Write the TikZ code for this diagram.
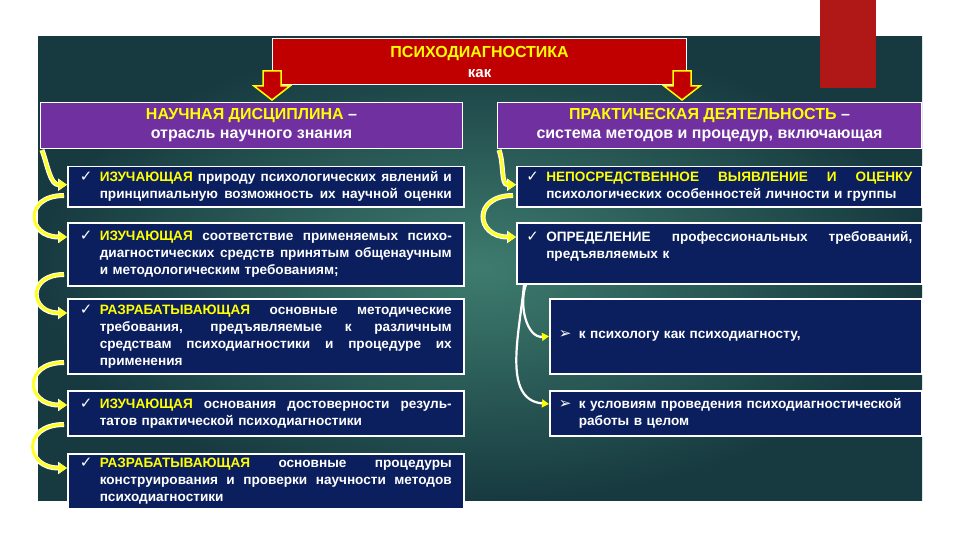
\documentclass[tikz,border=0pt]{standalone}
\usepackage{fontspec}
\setmainfont{Liberation Sans}
\newfontfamily\symfont{DejaVu Sans}
\usepackage{xcolor}
\usepackage{tikz}
\usetikzlibrary{arrows.meta,positioning,calc}
\definecolor{bgdark}{HTML}{173A40}
\definecolor{bgmid}{HTML}{3E7C6E}
\definecolor{psired}{HTML}{C00000}
\definecolor{barred}{HTML}{B01818}
\definecolor{psipurple}{HTML}{7030A0}
\definecolor{psinavy}{HTML}{0B1F5E}
\definecolor{psiyellow}{HTML}{FFFF00}
\newcommand{\chk}{\makebox[20pt][l]{\symfont\bfseries\fontsize{15}{17}\selectfont ✓}}
\newcommand{\pnt}{\makebox[20pt][l]{\symfont\bfseries\fontsize{15}{17}\selectfont ➢}}
\newcommand{\ind}{\hspace*{20pt}}
\newcommand{\jl}[2][352pt]{\makebox[#1][s]{\spaceskip=0pt\xspaceskip=0pt #2}}
\newcommand{\kw}[1]{\textcolor{psiyellow}{#1}}
\tikzset{
  ttl/.style={draw=white, line width=1.2pt, fill=psired, align=center, anchor=north west, inner sep=0pt, minimum width=414pt, minimum height=46pt, text=white, font=\fontsize{15}{20}\selectfont\bfseries},
  hdr/.style={draw=white, line width=1pt, fill=psipurple, align=center, anchor=north west, inner sep=0pt, minimum height=46pt, text=white, font=\fontsize{16}{19}\selectfont\bfseries},
  item/.style={draw=white, line width=1.5pt, fill=psinavy, anchor=north west, align=left, inner ysep=0pt, inner xsep=12pt, text width=372pt, text=white, font=\fontsize{13.6}{17}\selectfont\bfseries},
  ritem/.style={item, inner xsep=9.5pt, text width=386pt},
  sub/.style={item, inner xsep=9pt, text width=354pt},
  blk/.style={fill=psired, draw=psiyellow, line width=1.5pt, line join=miter},
  carr/.style={-{Triangle[length=8pt,width=10pt]}, line width=3pt, draw=psiyellow!85!white, preaction={draw=white, line width=5pt, -{Triangle[length=9pt,width=12pt]}}},
  warr/.style={-{Triangle[length=7pt,width=8pt,color=psiyellow]}, line width=2.2pt, draw=white},
}
\begin{document}
\begin{tikzpicture}[x=1pt,y=-1pt]
  \useasboundingbox (0,0) rectangle (960,540);
  \shade[inner color=bgmid, outer color=bgdark] (38,37) rectangle (922,500);
  \fill[barred] (820,0) rectangle (876,88);
  \node[ttl] (psy) at (272,38) {{\fontsize{16}{20}\selectfont\color{psiyellow}ПСИХОДИАГНОСТИКА}\\как};
  \node[hdr, minimum width=422pt] (sci) at (40,102) {\kw{НАУЧНАЯ ДИСЦИПЛИНА} –\\отрасль научного знания};
  \node[hdr, minimum width=424pt] (prac) at (497,102) {\kw{ПРАКТИЧЕСКАЯ ДЕЯТЕЛЬНОСТЬ} –\\система методов и процедур, включающая};
  \foreach \ax in {272,682}
    \filldraw[blk] (\ax-9,71) -- (\ax+9,71) -- (\ax+9,86) -- (\ax+18,86) -- (\ax,100) -- (\ax-18,86) -- (\ax-9,86) -- cycle;
  \node[item, minimum height=40pt] (l1) at (67,166) {\chk\jl{\kw{ИЗУЧАЮЩАЯ} природу психологических явлений и}\\
    \ind\jl{принципиальную возможность их научной оценки}};
  \node[item, minimum height=63pt] (l2) at (67,222) {\chk\jl{\kw{ИЗУЧАЮЩАЯ} соответствие применяемых психо-}\\
    \ind\jl{диагностических средств принятым общенаучным}\\
    \ind и методологическим требованиям;};
  \node[item, minimum height=75pt] (l3) at (67,298) {\chk\jl{\kw{РАЗРАБАТЫВАЮЩАЯ} основные методические}\\
    \ind\jl{требования, предъявляемые к различным}\\
    \ind\jl{средствам психодиагностики и процедуре их}\\
    \ind применения};
  \node[item, minimum height=45pt] (l4) at (67,390) {\chk\jl{\kw{ИЗУЧАЮЩАЯ} основания достоверности резуль-}\\
    \ind татов практической психодиагностики};
  \node[item, minimum height=55pt] (l5) at (67,453) {\chk\jl{\kw{РАЗРАБАТЫВАЮЩАЯ} основные процедуры}\\
    \ind\jl{конструирования и проверки научности методов}\\
    \ind психодиагностики};
  \node[ritem, minimum height=40pt] (r1) at (516,166) {\chk\jl[366pt]{\kw{НЕПОСРЕДСТВЕННОЕ ВЫЯВЛЕНИЕ И ОЦЕНКУ}}\\
    \ind психологических особенностей личности и группы};
  \node[ritem, minimum height=61pt] (r2) at (516,222) {\chk\jl[366pt]{ОПРЕДЕЛЕНИЕ профессиональных требований,}\\
    \ind предъявляемых к\\ \mbox{}};
  \node[sub, minimum height=75pt] (r3) at (549,298) {\pnt к психологу как психодиагносту,};
  \node[sub, minimum height=45pt] (r4) at (549,390) {\pnt к условиям проведения психодиагностической\\
    \ind работы в целом};
  \draw[carr] ([xshift=2pt,yshift=-1pt]sci.south west) to[out=-70,in=180] ([yshift=2pt]l1.west);
  \draw[carr] ([xshift=2pt,yshift=-1pt]prac.south west) to[out=-70,in=180] ([yshift=2pt]r1.west);
  \foreach \a/\b in {l1/l2,l2/l3,l3/l4,l4/l5,r1/r2}
    \draw[carr] ([xshift=-3pt,yshift=12pt]\a.south west) to[out=180,in=180,looseness=2.5] ([yshift=-15pt]\b.north west);
  \draw[warr] ([xshift=10pt]r2.south west) to[out=-110,in=185] (r3.west);
  \draw[warr] ([xshift=8pt]r2.south west) to[out=-95,in=175] ([yshift=-14pt]r4.north west);
\end{tikzpicture}
\end{document}
